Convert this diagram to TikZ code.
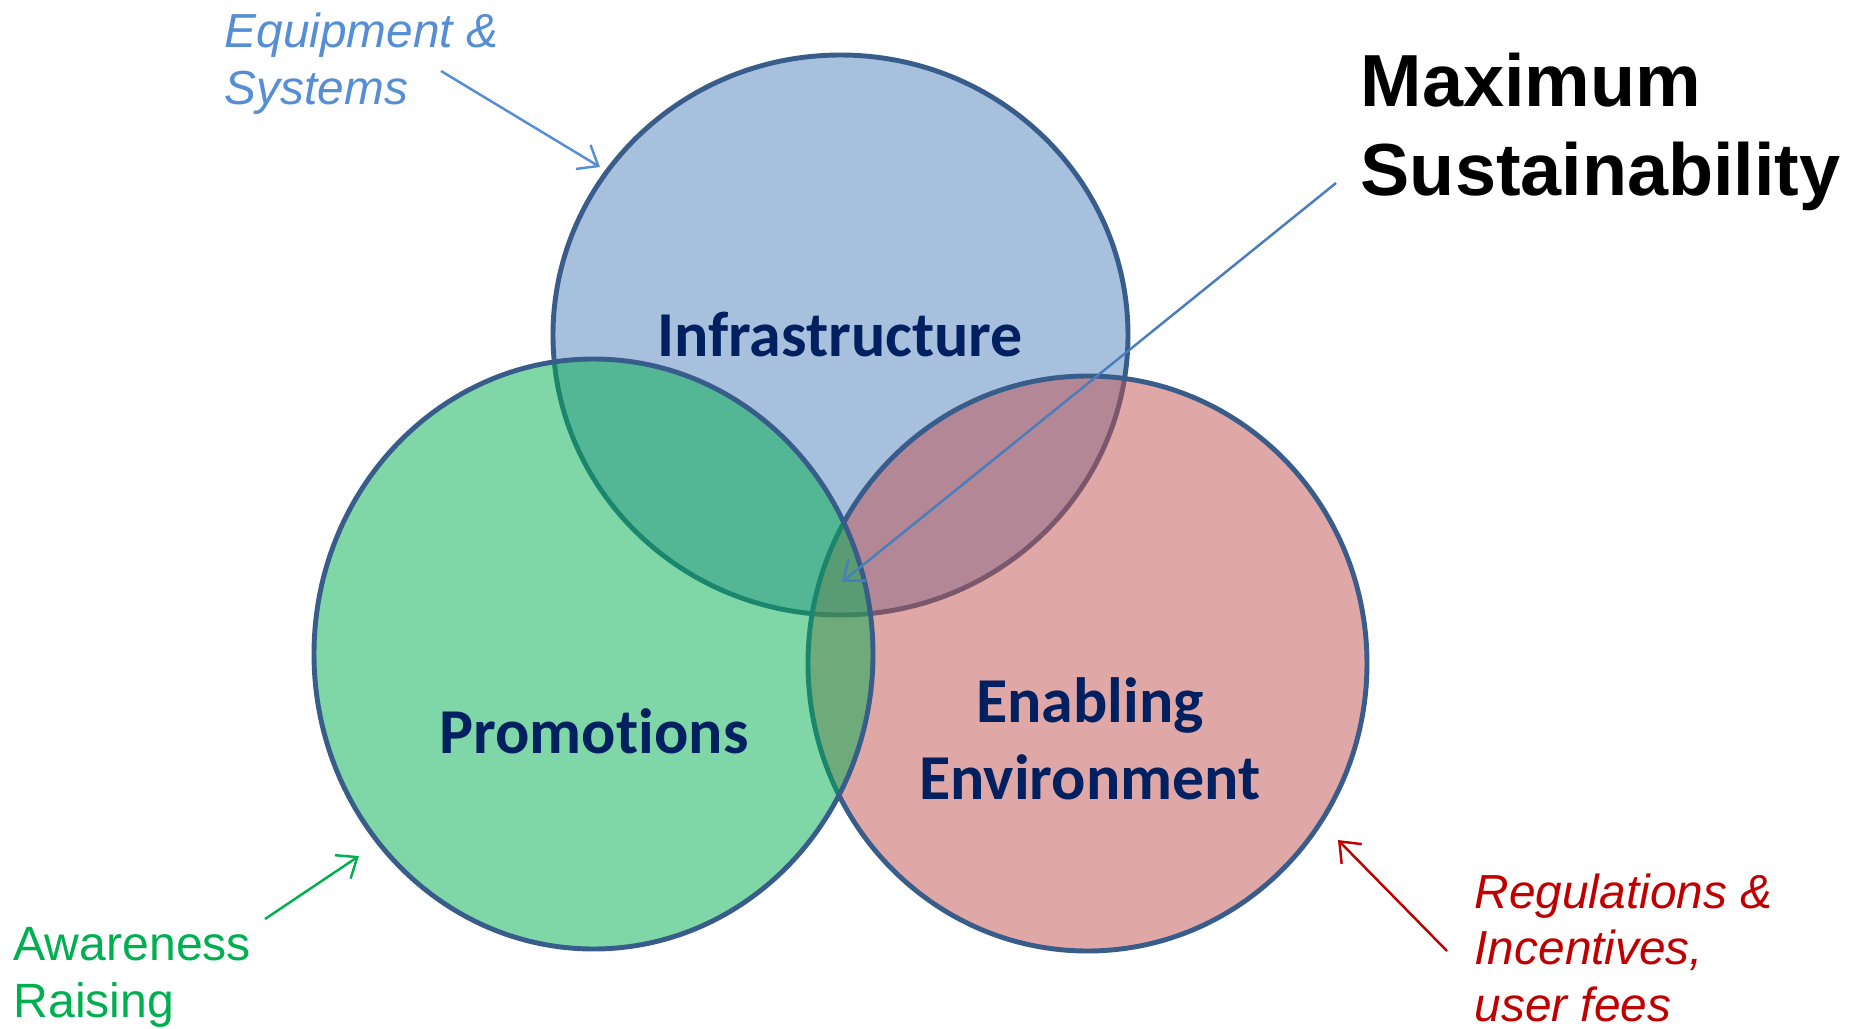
\documentclass[tikz,border=0pt]{standalone}
\usepackage{fontspec}
\setmainfont{Liberation Sans}
\newfontfamily\calibri[Ligatures=NoCommon]{Carlito}
\usepackage{tikz}
\usetikzlibrary{arrows.meta}
\usetikzlibrary{positioning}
\usetikzlibrary{shapes.geometric}

\definecolor{infrablue}{HTML}{4F81BD}
\definecolor{promogreen}{HTML}{00B050}
\definecolor{enablered}{HTML}{C0504D}
\definecolor{rimblue}{HTML}{385D8A}
\definecolor{labelnavy}{HTML}{002060}
\definecolor{equipblue}{HTML}{558ED5}
\definecolor{sustblue}{HTML}{4A7EBB}
\definecolor{regred}{HTML}{C00000}

\tikzset{
  pillar/.style={ellipse, draw=rimblue, line width=1.4pt, fill opacity=.5, inner sep=0pt},
  pillarname/.style={font=\calibri\bfseries\fontsize{18.2}{21.9}\selectfont, text=labelnavy, align=center, inner sep=0pt, anchor=base},
  aside/.style={font=\fontsize{13.7}{16.2}\selectfont, align=left, inner sep=0pt, anchor=base west},
  aside slanted/.style={aside, font=\itshape\fontsize{13.6}{16}\selectfont},
  pointer/.style={line width=.7pt, -{Straight Barb[length=5pt,width=8pt]}}
}

\begin{document}
\begin{tikzpicture}[x=0.1mm, y=-0.1mm]
       \useasboundingbox (0,0) rectangle (1850,1029);

       \node[pillar, fill=infrablue, minimum width=57.5mm, minimum height=56mm] (infra) at (840.5,335) {};
       \node[pillar, fill=enablered, minimum width=55.9mm, minimum height=57.5mm] (enable) at (1087.5,663.5) {};
       \node[pillar, fill=promogreen, minimum width=55.9mm, minimum height=59mm] (promo) at (593.5,654) {};

       \node[pillarname] (infraname) at (840,356) {Infrastructure};
       \node[pillarname] (promoname) at (594,753) {Promotions};
       \node[pillarname] (enablename) at (1090,799) {Enabling\\Environment};

       \node[font=\bfseries\fontsize{21}{25.3}\selectfont, align=left, inner sep=0pt, anchor=base west] (maxsust) at (1360,195) {Maximum\\Sustainability};
       \node[aside slanted, text=equipblue] (equip) at (224,104) {Equipment \&\\Systems};
       \node[aside, text=promogreen] (aware) at (13,1017) {Awareness\\Raising};
       \node[aside slanted, text=regred] (regs) at (1474,1021) {Regulations \&\\Incentives,\\user fees};

       \coordinate (equip-from) at (441,71);
       \coordinate (equip-to) at (600,167);
       \coordinate (sust-from) at (1336,183);
       \coordinate (sust-to) at (842,582);
       \coordinate (aware-from) at (265,919);
       \coordinate (aware-to) at (359,856);
       \coordinate (regs-from) at (1447,951);
       \coordinate (regs-to) at (1338,840);

       \draw[pointer, equipblue] (equip-from) -- (equip-to);
       \draw[pointer, sustblue] (sust-from) -- (sust-to);
       \draw[pointer, promogreen] (aware-from) -- (aware-to);
       \draw[pointer, regred] (regs-from) -- (regs-to);

\end{tikzpicture}
\end{document}
